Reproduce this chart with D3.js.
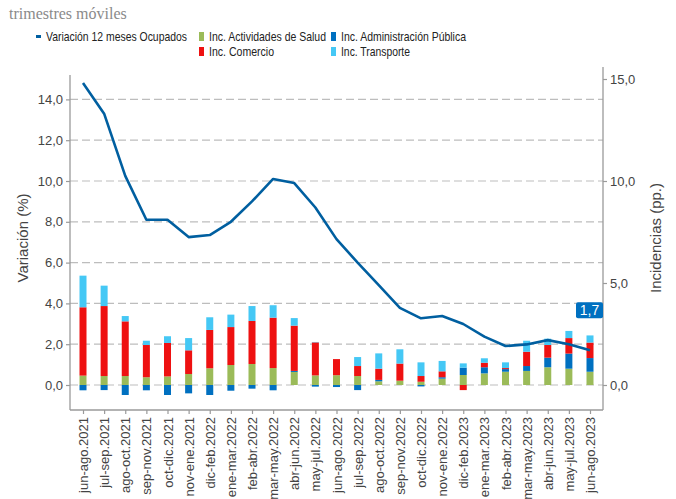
<!DOCTYPE html>
<html>
<head>
<meta charset="utf-8">
<script src="https://cdn.jsdelivr.net/npm/d3@7"></script>
<style>
  body { margin: 0; background: #fff; }
  svg { display: block; font-family: "Liberation Sans", Arial, sans-serif; }
</style>
</head>
<body>
<svg id="chart" width="676" height="499"></svg>
<script>
const categories = ["jun-ago.2021","jul-sep.2021","ago-oct.2021","sep-nov.2021","oct-dic.2021","nov-ene.2021","dic-feb.2022","ene-mar.2022","feb-abr.2022","mar-may.2022","abr-jun.2022","may-jul.2022","jun-ago.2022","jul-sep.2022","ago-oct.2022","sep-nov.2022","oct-dic.2022","nov-ene.2022","dic-feb.2023","ene-mar.2023","feb-abr.2023","mar-may.2023","abr-jun.2023","may-jul.2023","jun-ago.2023"];
const variacion = [14.8,13.3,10.25,8.1,8.1,7.25,7.35,8.0,9.0,10.1,9.9,8.7,7.15,6.0,4.9,3.78,3.27,3.38,2.99,2.37,1.91,1.99,2.2,2.0,1.7];
const salud =      [0.46,0.44,0.44,0.38,0.42,0.54,0.82,0.98,1.03,0.83,0.64,0.47,0.48,0.44,0.18,0.21,0.16,0.31,0.49,0.57,0.65,0.69,0.87,0.80,0.65];
const adminPub =   [-0.26,-0.25,-0.49,-0.26,-0.49,-0.41,-0.49,-0.28,-0.18,-0.26,0.05,-0.08,-0.1,-0.25,0.07,0.0,-0.07,0.07,0.36,0.30,0.13,0.24,0.47,0.74,0.67];
const comercio =   [3.35,3.43,2.68,1.58,1.64,1.16,1.88,1.86,2.11,2.47,2.22,1.62,0.79,0.49,0.55,0.84,0.28,0.29,-0.25,0.22,0.05,0.70,0.62,0.76,0.76];
const transporte = [1.55,1.0,0.26,0.21,0.33,0.6,0.62,0.61,0.73,0.61,0.37,0.02,0.0,0.44,0.75,0.7,0.67,0.51,0.21,0.22,0.28,0.54,0.31,0.35,0.35];
const leftTicks = [0,2,4,6,8,10,12,14];
const rightTicks = [0,5,10,15];
const seriesNames = ["Inc. Actividades de Salud","Inc. Administración Pública","Inc. Comercio","Inc. Transporte"];
const lineName = "Variación 12 meses Ocupados";
const colors = {salud:"#9bbb59", admin:"#0070c0", comercio:"#ee1111", transporte:"#45c8f5", line:"#005fa0"};

const svg = d3.select("#chart");
const plot = {left:70, right:603, top:67, bottom:410};

const x = d3.scalePoint().domain(categories).range([83, 590]);
const yL = d3.scaleLinear().domain([0, 1]).range([385, 364.6]);
const yR = yL.copy();

// gridlines
svg.append("g").selectAll("line").data(leftTicks).join("line")
  .attr("x1", plot.left).attr("x2", plot.right)
  .attr("y1", d => yL(d)).attr("y2", d => yL(d))
  .attr("stroke", "#bdbdbd").attr("stroke-width", 1.2).attr("stroke-dasharray", "8,4");

// stacked bars
const keys = ["salud","admin","comercio","transporte"];
const rows = categories.map((c,i) => ({cat:c, salud:salud[i], admin:adminPub[i], comercio:comercio[i], transporte:transporte[i]}));
const stack = d3.stack().keys(keys).offset(d3.stackOffsetDiverging);
const stacked = stack(rows);
const bw = 7;
svg.append("g").selectAll("g").data(stacked).join("g")
  .attr("fill", d => colors[d.key])
  .selectAll("rect").data(d => d).join("rect")
  .attr("x", d => x(d.data.cat) - bw/2)
  .attr("width", bw)
  .attr("y", d => yL(Math.max(d[0], d[1])))
  .attr("height", d => Math.abs(yL(d[0]) - yL(d[1])));

// line
svg.append("path").datum(variacion)
  .attr("fill", "none").attr("stroke", colors.line).attr("stroke-width", 2.6)
  .attr("stroke-linejoin", "round")
  .attr("d", d3.line().x((d,i) => x(categories[i])).y(d => yL(d)));

// axes
const axisColor = "#9a9a9a";
const fmt = d => d3.format(".1f")(d).replace(".", ",");
const leftAxis = svg.append("g").attr("transform", `translate(${plot.left},0)`)
  .call(d3.axisLeft(yL).tickValues(leftTicks).tickSize(4).tickSizeOuter(0).tickFormat(fmt));
leftAxis.select(".domain").remove();
leftAxis.append("line").attr("x1",0).attr("x2",0).attr("y1",75).attr("y2",plot.bottom).attr("stroke",axisColor).attr("stroke-width",1.3);

const rightAxis = svg.append("g").attr("transform", `translate(${plot.right},0)`)
  .call(d3.axisRight(yR).tickValues(rightTicks).tickSize(4).tickSizeOuter(0).tickFormat(fmt));
rightAxis.select(".domain").remove();
rightAxis.append("line").attr("x1",0).attr("x2",0).attr("y1",plot.top).attr("y2",plot.bottom).attr("stroke",axisColor).attr("stroke-width",1.3);

const bottomAxis = svg.append("g").attr("transform", `translate(0,${plot.bottom})`)
  .call(d3.axisBottom(x).tickSize(4).tickSizeOuter(0));
bottomAxis.select(".domain").remove();
bottomAxis.append("line").attr("x1",plot.left).attr("x2",plot.right).attr("y1",0).attr("y2",0).attr("stroke",axisColor).attr("stroke-width",1.3);
bottomAxis.selectAll(".tick text")
  .attr("transform", "rotate(-90)")
  .attr("text-anchor", "end")
  .attr("x", -7).attr("y", 0).attr("dy", "0.35em");

[leftAxis, rightAxis, bottomAxis].forEach(a => {
  a.selectAll(".tick line").attr("stroke", axisColor).attr("stroke-width", 1.2);
  a.selectAll(".tick text").attr("fill", "#444").attr("font-size", 13).attr("font-family", "Liberation Sans, Arial, sans-serif");
});

// axis titles
svg.append("text").attr("transform", "translate(28,238) rotate(-90)")
  .attr("text-anchor", "middle").attr("font-size", 15).attr("fill", "#444").text("Variación (%)");
svg.append("text").attr("transform", "translate(661,238) rotate(-90)")
  .attr("text-anchor", "middle").attr("font-size", 15).attr("fill", "#444").text("Incidencias (pp.)");

// last value label
const lastV = variacion[variacion.length-1];
const lblG = svg.append("g").attr("transform", `translate(${plot.right}, ${yL(lastV) - 40})`);
lblG.append("rect").attr("x", -27).attr("y", -8).attr("width", 27).attr("height", 16).attr("rx", 2).attr("fill", "#0070c0");
lblG.append("text").attr("x", -13.5).attr("y", 0).attr("dy", "0.36em").attr("text-anchor", "middle")
  .attr("font-size", 14).attr("fill", "#fff").text(fmt(lastV));

// title
svg.append("text").attr("x", 9).attr("y", 19).attr("font-family", "Liberation Serif, DejaVu Serif, serif")
  .attr("font-size", 16).attr("fill", "#8a8a8a").text("trimestres móviles");

// legend
const legend = svg.append("g").attr("font-size", 12.8).attr("fill", "#222");
legend.append("rect").attr("x", 36).attr("y", 35).attr("width", 5).attr("height", 3).attr("fill", colors.line);
legend.append("text").attr("x", 46).attr("y", 41).attr("textLength", 141).attr("lengthAdjust", "spacingAndGlyphs").text(lineName);
const legItems = [
  {name: seriesNames[0], c: colors.salud, x: 199, y: 37, w: 117},
  {name: seriesNames[1], c: colors.admin, x: 331, y: 37, w: 125},
  {name: seriesNames[2], c: colors.comercio, x: 199, y: 52, w: 65},
  {name: seriesNames[3], c: colors.transporte, x: 331, y: 52, w: 69}
];
legItems.forEach(it => {
  legend.append("rect").attr("x", it.x).attr("y", it.y - 5).attr("width", 5).attr("height", 9).attr("fill", it.c);
  legend.append("text").attr("x", it.x + 10).attr("y", it.y + 4)
    .attr("textLength", it.w).attr("lengthAdjust", "spacingAndGlyphs").text(it.name);
});
</script>
</body>
</html>
